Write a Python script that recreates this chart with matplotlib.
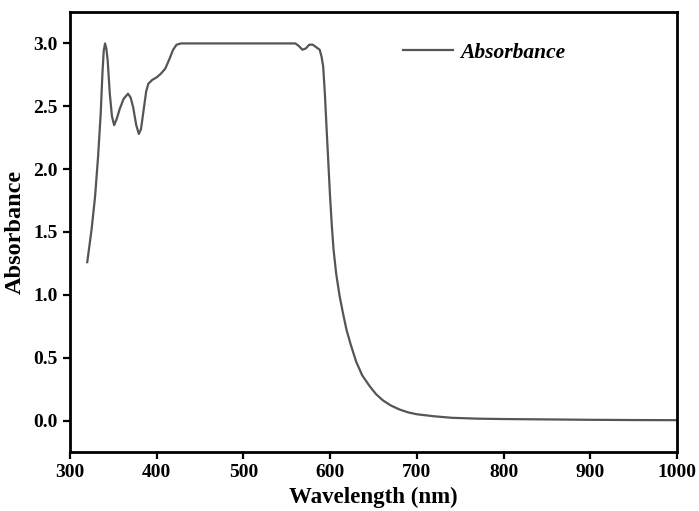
import numpy as np
import matplotlib
matplotlib.use("Agg")
import matplotlib.pyplot as plt

# Data
wavelength = [320, 325, 329, 332.5, 335.5, 337.5, 339, 340.5, 342, 343.5, 346, 348.5, 351,
              354, 357.5, 362, 367, 370, 373, 376.5, 379.5, 382, 385, 388, 390.5, 395,
              400, 405, 410, 415, 419, 423, 428, 450, 500, 555, 560, 564, 568, 572,
              576, 580, 584, 588, 590, 592, 594, 596, 598, 600, 602, 604, 607, 611,
              615, 619, 624, 630, 637, 646, 653, 661, 670, 680, 690, 700, 720, 740,
              770, 800, 850, 900, 950, 1000]
absorbance = [1.26, 1.52, 1.78, 2.10, 2.44, 2.76, 2.94, 3.00, 2.96, 2.87, 2.60, 2.42, 2.35,
              2.40, 2.48, 2.56, 2.60, 2.57, 2.49, 2.35, 2.28, 2.32, 2.47, 2.62, 2.68, 2.71,
              2.73, 2.76, 2.80, 2.88, 2.95, 2.99, 3.00, 3.00, 3.00, 3.00, 3.00, 2.98, 2.95, 2.96,
              2.99, 2.99, 2.97, 2.95, 2.90, 2.82, 2.60, 2.32, 2.05, 1.78, 1.55, 1.36, 1.17, 0.99,
              0.85, 0.72, 0.60, 0.47, 0.36, 0.27, 0.21, 0.16, 0.12, 0.088, 0.065, 0.05, 0.034, 0.022,
              0.015, 0.012, 0.009, 0.006, 0.004, 0.003]

x_ticks = [300, 400, 500, 600, 700, 800, 900, 1000]
y_ticks = [0.0, 0.5, 1.0, 1.5, 2.0, 2.5, 3.0]

plt.rcParams['font.family'] = ['Liberation Serif', 'DejaVu Serif']
plt.rcParams['font.weight'] = 'bold'

fig = plt.figure(figsize=(6.99, 5.11), dpi=100)
ax = fig.add_axes([0.100, 0.1155, 0.8685, 0.861])

ax.plot(wavelength, absorbance, color='#555555', linewidth=1.6, label='Absorbance')

ax.set_xlim(300, 1000)
ax.set_ylim(-0.25, 3.25)
ax.set_xticks(x_ticks)
ax.set_yticks(y_ticks)
ax.set_yticklabels([f'{v:.1f}' for v in y_ticks])
ax.tick_params(direction='out', length=5, width=1.6, labelsize=14, pad=4,
               top=False, right=False)
for label in ax.get_xticklabels() + ax.get_yticklabels():
    label.set_fontweight('bold')
for s in ax.spines.values():
    s.set_linewidth(2)

ax.set_xlabel('Wavelength (nm)', fontsize=16.5, fontweight='bold', labelpad=4)
ax.set_ylabel('Absorbance', fontsize=17.5, fontweight='bold', labelpad=5)

leg = ax.legend(loc='center left', bbox_to_anchor=(0.549, 0.907), frameon=False,
                borderpad=0, borderaxespad=0, handlelength=2.3, handletextpad=0.35,
                prop={'size': 15.5, 'weight': 'bold', 'style': 'italic'})

fig.savefig('out.png', dpi=100)
